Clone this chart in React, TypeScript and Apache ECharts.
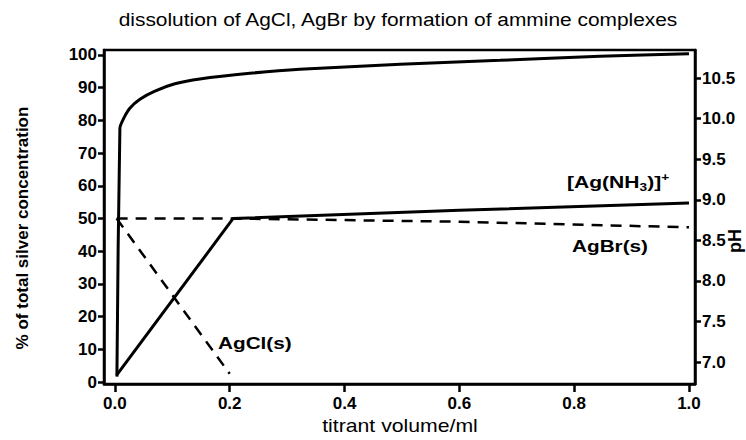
import React, { useEffect, useRef } from "react";
import * as echarts from "echarts";

const xTicks = [0, 0.2, 0.4, 0.6, 0.8, 1.0];
const leftTicks = [0, 10, 20, 30, 40, 50, 60, 70, 80, 90, 100];
const rightTicks = [7.0, 7.5, 8.0, 8.5, 9.0, 9.5, 10.0, 10.5];

const phX = [0.0035, 0.0087, 0.0157, 0.026, 0.0436, 0.0697, 0.1045, 0.148, 0.235, 0.322, 0.497, 0.671, 0.845, 1.0];
const phY = [6.82, 9.885, 10.01, 10.13, 10.24, 10.34, 10.43, 10.49, 10.56, 10.61, 10.67, 10.72, 10.77, 10.8];

const ammineX = [0.003, 0.206, 0.6, 1.0];
const ammineY = [2.1, 50, 52.5, 54.7];

const agclX = [0.003, 0.2];
const agclY = [50, 2.5];

const agbrX = [0.003, 0.2, 0.6, 1.0];
const agbrY = [50, 50, 49, 47.3];

const FONT = "'Liberation Sans', Arial, sans-serif";

const zip = (xs: number[], ys: number[]) => xs.map((x, i) => [x, ys[i]]);

export default function App() {
  const ref = useRef<HTMLDivElement>(null);
  useEffect(() => {
    if (!ref.current) return;
    const chart = echarts.init(ref.current, undefined, { renderer: "svg" });
    const axisLine = { show: true, lineStyle: { color: "#000", width: 2.5 } };
    const axisTickStyle = { color: "#000", width: 2.5 };
    const labelBase = { color: "#000", fontFamily: FONT, fontWeight: "bold" as const, fontSize: 17 };
    chart.setOption({
      animation: false,
      backgroundColor: "#fff",
      grid: { left: 104, right: 51, top: 50, bottom: 56, show: true, borderColor: "#000", borderWidth: 2.5, backgroundColor: "transparent" },
      xAxis: {
        type: "value",
        min: -0.019,
        max: 1.0105,
        axisLine: { ...axisLine, onZero: false },
        splitLine: { show: false },
        axisTick: { show: true, length: 8, lineStyle: axisTickStyle, customValues: xTicks },
        axisLabel: { ...labelBase, margin: 11, customValues: xTicks, formatter: (v: number) => v.toFixed(1) },
      },
      yAxis: [
        {
          type: "value",
          position: "left",
          min: -0.6,
          max: 101.5,
          axisLine: { ...axisLine, onZero: false },
          splitLine: { show: false },
          axisTick: { show: true, length: 6, lineStyle: axisTickStyle, customValues: leftTicks },
          axisLabel: { ...labelBase, margin: 7, customValues: leftTicks },
        },
        {
          type: "value",
          position: "right",
          min: 6.729,
          max: 10.847,
          axisLine: { ...axisLine, onZero: false },
          splitLine: { show: false },
          axisTick: { show: true, length: 6, lineStyle: axisTickStyle, customValues: rightTicks },
          axisLabel: { ...labelBase, margin: 7, customValues: rightTicks, formatter: (v: number) => v.toFixed(1) },
        },
      ],
      series: [
        {
          type: "line",
          yAxisIndex: 1,
          data: zip(phX, phY),
          symbol: "none",
          smooth: 0.2,
          lineStyle: { color: "#000", width: 3 },
        },
        {
          type: "line",
          data: zip(ammineX, ammineY),
          symbol: "none",
          lineStyle: { color: "#000", width: 3 },
        },
        {
          type: "line",
          data: zip(agclX, agclY),
          symbol: "none",
          lineStyle: { color: "#000", width: 2.5, type: [11, 8] },
        },
        {
          type: "line",
          data: zip(agbrX, agbrY),
          symbol: "none",
          lineStyle: { color: "#000", width: 2.5, type: [11, 8] },
        },
      ],
      graphic: [
        {
          type: "text",
          x: 398,
          y: 19,
          scaleX: 1.1,
          style: { text: "dissolution of AgCl, AgBr by formation of ammine complexes", fontFamily: FONT, fontSize: 19, fill: "#000", align: "center", verticalAlign: "middle" },
        },
        {
          type: "text",
          x: 22,
          y: 228,
          rotation: Math.PI / 2,
          style: { text: "% of total silver concentration", fontFamily: FONT, fontSize: 17, fontWeight: "bold", fill: "#000", align: "center", verticalAlign: "middle" },
        },
        {
          type: "text",
          x: 400,
          y: 426,
          scaleX: 1.18,
          style: { text: "titrant volume/ml", fontFamily: FONT, fontSize: 18, fill: "#000", align: "center", verticalAlign: "middle" },
        },
        {
          type: "text",
          x: 735,
          y: 241,
          rotation: Math.PI / 2,
          style: { text: "pH", fontFamily: FONT, fontSize: 18, fontWeight: "bold", fill: "#000", align: "center", verticalAlign: "middle" },
        },
        {
          type: "text",
          x: 567,
          y: 172,
          scaleX: 1.24,
          style: {
            text: "[Ag(NH{sub|3})]{sup|+}",
            fontFamily: FONT,
            fontSize: 17,
            fontWeight: "bold",
            fill: "#000",
            rich: {
              sub: { fontSize: 11, fontWeight: "bold", fontFamily: FONT, padding: [10, 0, 0, 0], fill: "#000" },
              sup: { fontSize: 11, fontWeight: "bold", fontFamily: FONT, padding: [0, 0, 10, 0], fill: "#000" },
            },
          },
        },
        {
          type: "text",
          x: 572,
          y: 238,
          scaleX: 1.22,
          style: { text: "AgBr(s)", fontFamily: FONT, fontSize: 17, fontWeight: "bold", fill: "#000" },
        },
        {
          type: "text",
          x: 218,
          y: 335,
          scaleX: 1.22,
          style: { text: "AgCl(s)", fontFamily: FONT, fontSize: 17, fontWeight: "bold", fill: "#000" },
        },
      ],
    });
    return () => chart.dispose();
  }, []);
  return <div ref={ref} style={{ width: 746, height: 440, position: "absolute", left: 0, top: 0 }} />;
}
